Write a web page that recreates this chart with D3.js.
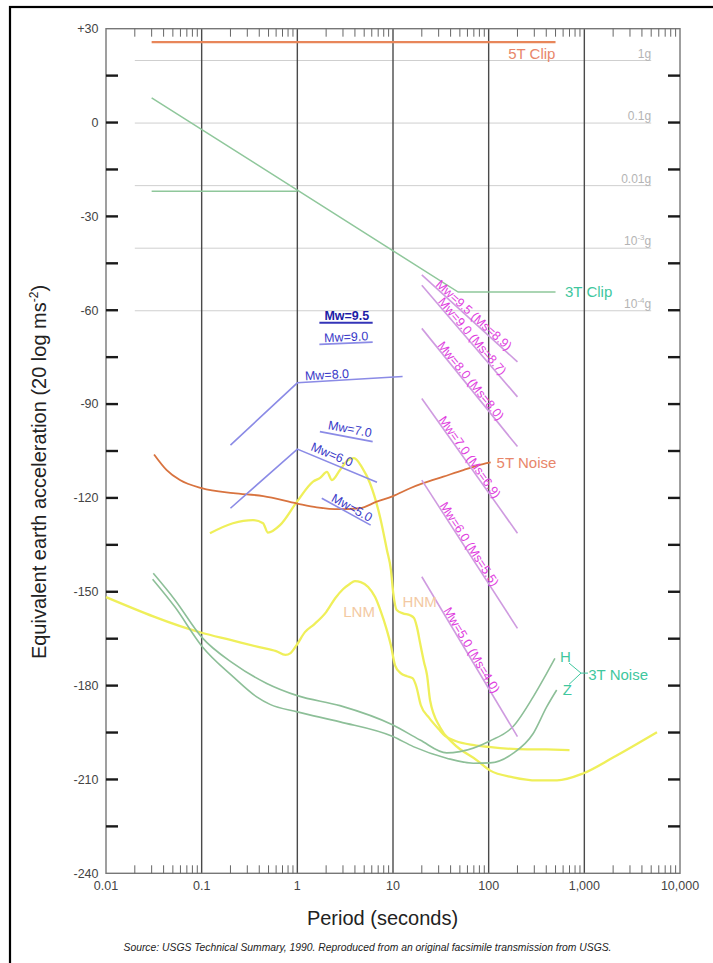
<!DOCTYPE html>
<html>
<head>
<meta charset="utf-8">
<script src="https://cdn.jsdelivr.net/npm/d3@7"></script>
<style>
  html, body { margin: 0; padding: 0; background: #fff; }
  svg { display: block; font-family: "Liberation Sans", Arial, Helvetica, sans-serif; }
</style>
</head>
<body>
<svg id="chart" width="713" height="963"></svg>
<script>
// ---- axis ticks and labels ----
const periodTicks = [0.01, 0.1, 1, 10, 100, 1000, 10000];
const periodTickLabels = ["0.01", "0.1", "1", "10", "100", "1,000", "10,000"];
const dbTicks = [30, 0, -30, -60, -90, -120, -150, -180, -210, -240];
const dbTickLabels = ["+30", "0", "-30", "-60", "-90", "-120", "-150", "-180", "-210", "-240"];

// ---- reference acceleration levels (20 log of g fractions) ----
const gLevels = [19.83, -0.17, -20.17, -40.17, -60.17];
const gLabelBase = ["1g", "0.1g", "0.01g", "10", "10"];
const gLabelExp = [null, null, null, "-3", "-4"];

// ---- instrument clip levels [period s, dB] ----
const clip5T = [[0.03, 25.7], [500, 25.7]];
const clip3T = [[0.03, 7.9], [48, -54.2], [500, -54.2]];
const clip3TLow = [[0.03, -22], [1, -22]];

// ---- instrument self-noise ----
const noise5T = [[0.0318, -106.1], [0.0431, -111.1], [0.0593, -114.3], [0.1, -116.9], [0.214, -118.5],
  [0.44, -119.4], [1.0, -121.8], [1.6, -123.0], [2.79, -123.6], [4.5, -123.3], [6.76, -121.2],
  [10, -119.4], [15.1, -116.9], [20.7, -115.3], [33.6, -113.2], [54.3, -111.1], [95, -108.9], [105, -108.6]];
const noise3TH = [[0.0312, -144.1], [0.0526, -152.6], [0.1, -164.5], [0.214, -172.9], [0.479, -179.3],
  [1, -183.2], [2.79, -186.4], [10, -192.6], [19.2, -197.4], [36.4, -201.5], [50, -201.1],
  [103, -197.7], [181, -193.0], [292, -183.6], [404, -176.1], [493, -171.3]];
const noise3TZ = [[0.0307, -146.0], [0.0526, -154.9], [0.1, -167.3], [0.214, -177.2], [0.376, -183.6],
  [0.518, -186.0], [1, -188.4], [2.79, -191.6], [10, -196.3], [16.3, -199.5], [36.4, -203.2],
  [69, -204.8], [103, -204.7], [181, -201.6], [292, -195.3], [404, -186.8], [514, -181.4]];

// ---- earth noise models ----
const lnm = [[0.01, -151.7], [0.1, -163.1], [0.2, -165.4], [0.4, -167.7], [0.6, -169.0], [0.75, -170.2],
  [0.85, -169.6], [1.0, -166.7], [1.2, -162.9], [1.5, -160.4], [2.0, -156.5], [2.5, -152.0], [3.0, -149.2],
  [3.5, -147.6], [4.0, -146.6], [4.6, -146.9], [5.5, -148.5], [6.5, -151.7], [7.5, -156.5], [8.5, -161.6],
  [9.5, -167.1], [10.5, -173.5], [12, -176.0], [14, -177.0], [16, -177.6], [17.5, -180.2], [19.5, -186.2],
  [24, -190.4], [30, -193.9], [35, -196.1], [45, -197.7], [70, -199.0], [100, -199.6], [200, -200.3],
  [400, -200.4], [700, -200.6]];
const hnm = [[0.122, -131.3], [0.212, -128.1], [0.344, -127.1], [0.438, -128.1], [0.493, -131.1],
  [0.659, -128.7], [0.992, -121.2], [1.46, -114.8], [1.73, -113.6], [2.04, -111.7], [2.30, -114.3],
  [2.79, -111.1], [3.39, -107.9], [3.91, -107.3], [4.74, -110.2], [5.75, -115.3], [7.31, -126.0],
  [8.65, -136.7], [9.52, -143.1], [10.07, -150.5], [10.93, -155.8], [12.7, -156.9], [15.1, -157.5],
  [16.6, -158.4], [17.8, -161.3], [19.2, -166.4], [21.1, -172.5], [22.7, -176.7], [24.4, -184.7],
  [31.0, -193.3], [42.4, -198.4], [75.5, -203.9], [103, -207.1], [180, -209.3], [320, -210.3],
  [518, -210.3], [968, -208.1], [1995, -203.0], [5750, -194.9]];

// ---- moment magnitude body-wave levels ----
const mwLabels = ["Mw=9.5", "Mw=9.0", "Mw=8.0", "Mw=7.0", "Mw=6.0", "Mw=5.0"];
const mwLines = [
  [[1.70, -64.0], [6.13, -64.0]],
  [[1.70, -70.9], [6.13, -70.2]],
  [[0.2, -103.1], [1, -83.2], [12.6, -81.2]],
  [[1.72, -98.8], [6.13, -102.0]],
  [[0.2, -123.3], [1, -104.4], [6.8, -115.0]],
  [[1.80, -120.1], [5.84, -128.7]]
];

// ---- surface-wave levels ----
const msLabels = ["Mw=9.5 (Ms=8.9)", "Mw=9.0 (Ms=8.7)", "Mw=8.0 (Ms=8.0)",
  "Mw=7.0 (Ms=6.9)", "Mw=6.0 (Ms=5.5)", "Mw=5.0 (Ms=4.0)"];
const msPeriods = [20, 200];
const msStart = [-48.7, -52.0, -65.8, -88.2, -114.3, -145.2];
const msEnd = [-76.5, -87.7, -103.6, -131.3, -161.7, -196.3];

// ---- curve label anchors [period, dB] ----
const curveLabels = [
  { text: "5T Clip", at: [160, 22.0], color: "#e8866a" },
  { text: "3T Clip", at: [628, -54.2], color: "#3fc79e" },
  { text: "5T Noise", at: [121, -108.7], color: "#e8866a" },
  { text: "3T Noise", at: [1099, -176.4], color: "#3fc79e" },
  { text: "H", at: [556, -170.8], color: "#3fc79e" },
  { text: "Z", at: [594, -181.4], color: "#3fc79e" },
  { text: "LNM", at: [3.02, -156.4], color: "#f3c9a2" },
  { text: "HNM", at: [12.6, -153.2], color: "#f3c9a2" }
];
const braceH = [[692, -172.8], [923, -176.0], [692, -179.6]];
const braceStem = [[923, -176.0], [1092, -176.0]];

// ================= drawing =================
const svg = d3.select("#chart");
const x = d3.scaleLog().domain([0.01, 10000]).range([106, 680]);
const y = d3.scaleLinear().domain([-240, 30]).range([873.3, 28.7]);
const line = d3.line().x(d => x(d[0])).y(d => y(d[1]));
const smooth = d3.line().x(d => x(d[0])).y(d => y(d[1])).curve(d3.curveMonotoneX);

// outer frame
svg.append("rect").attr("x", 10).attr("y", 7).attr("width", 760).attr("height", 1000)
  .attr("fill", "none").attr("stroke", "#000").attr("stroke-width", 2.2);

// g reference lines
const gG = svg.append("g");
gLevels.forEach((v, i) => {
  gG.append("line").attr("x1", x(0.02)).attr("x2", x(5000)).attr("y1", y(v)).attr("y2", y(v))
    .attr("stroke", "#cfcfcf").attr("stroke-width", 1);
  const t = gG.append("text").attr("x", x(5000)).attr("y", y(v) - 3).attr("text-anchor", "end")
    .attr("font-size", 12).attr("fill", "#b4b4b4");
  t.append("tspan").text(gLabelBase[i]);
  if (gLabelExp[i]) {
    t.append("tspan").attr("font-size", 8).attr("dy", -5).text(gLabelExp[i]);
    t.append("tspan").attr("dy", 5).text("g");
  }
});

// decade grid lines
svg.append("g").selectAll("line").data(periodTicks.slice(1, -1)).join("line")
  .attr("x1", d => x(d)).attr("x2", d => x(d)).attr("y1", y(30)).attr("y2", y(-240))
  .attr("stroke", "#4a4a4a").attr("stroke-width", 1.4);

// plot box
svg.append("rect").attr("x", x(0.01)).attr("y", y(30)).attr("width", x(10000) - x(0.01))
  .attr("height", y(-240) - y(30)).attr("fill", "none").attr("stroke", "#777").attr("stroke-width", 1.4);

// minor period ticks (top and bottom)
const minor = [];
periodTicks.slice(0, -1).forEach(d => { for (let k = 2; k <= 9; k++) minor.push(d * k); });
const tk = svg.append("g").attr("stroke", "#666").attr("stroke-width", 1);
minor.forEach(p => {
  tk.append("line").attr("x1", x(p)).attr("x2", x(p)).attr("y1", y(30)).attr("y2", y(30) + 8);
  tk.append("line").attr("x1", x(p)).attr("x2", x(p)).attr("y1", y(-240)).attr("y2", y(-240) - 8);
});

// dB ticks on both sides
const majorDb = d3.range(-225, 30, 15);
const yt = svg.append("g").attr("stroke", "#1a1a1a").attr("stroke-width", 2.4);
majorDb.forEach(v => {
  yt.append("line").attr("x1", x(0.01)).attr("x2", x(0.01) + 12).attr("y1", y(v)).attr("y2", y(v));
  yt.append("line").attr("x1", x(10000) - 12).attr("x2", x(10000)).attr("y1", y(v)).attr("y2", y(v));
});

// tick labels
svg.append("g").selectAll("text").data(dbTicks).join("text")
  .attr("x", 98.5).attr("y", d => y(d)).attr("dy", "0.35em").attr("text-anchor", "end")
  .attr("font-size", 12.5).attr("fill", "#444").text((d, i) => dbTickLabels[i]);
svg.append("g").selectAll("text").data(periodTicks).join("text")
  .attr("x", d => x(d)).attr("y", 890).attr("text-anchor", "middle")
  .attr("font-size", 12.5).attr("fill", "#444").text((d, i) => periodTickLabels[i]);

// axis titles
svg.append("text").attr("x", 382.5).attr("y", 925).attr("text-anchor", "middle")
  .attr("font-size", 20).attr("fill", "#222").text("Period (seconds)");
const yTitle = svg.append("text").attr("transform", "translate(46,472) rotate(-90)")
  .attr("text-anchor", "middle").attr("font-size", 20).attr("fill", "#222");
yTitle.append("tspan").text("Equivalent earth acceleration (20 log ms");
yTitle.append("tspan").attr("font-size", 12).attr("dy", -8).text("-2");
yTitle.append("tspan").attr("dy", 8).text(")");

// source note
svg.append("text").attr("x", 367.5).attr("y", 951).attr("text-anchor", "middle")
  .attr("font-size", 10).attr("font-style", "italic").attr("fill", "#222")
  .attr("textLength", 488).attr("lengthAdjust", "spacingAndGlyphs")
  .text("Source: USGS Technical Summary, 1990.  Reproduced from an original facsimile transmission from USGS.");

// noise models (yellow)
[lnm, hnm].forEach(c => svg.append("path").attr("d", smooth(c)).attr("fill", "none")
  .attr("stroke", "#efef5a").attr("stroke-width", 2.3));

// 3T clip and noise (green)
[clip3T, clip3TLow].forEach(c => svg.append("path").attr("d", line(c)).attr("fill", "none")
  .attr("stroke", "#8fc79b").attr("stroke-width", 1.5));
[noise3TH, noise3TZ].forEach(c => svg.append("path").attr("d", smooth(c)).attr("fill", "none")
  .attr("stroke", "#8dbf98").attr("stroke-width", 1.6));

// 5T clip and noise (orange)
svg.append("path").attr("d", line(clip5T)).attr("fill", "none").attr("stroke", "#e8865a").attr("stroke-width", 2.2);
svg.append("path").attr("d", smooth(noise5T)).attr("fill", "none").attr("stroke", "#d8733f").attr("stroke-width", 1.8);

// helper: place text along a segment in pixel space
function alongSeg(a, b, dist, off) {
  const ax = x(a[0]), ay = y(a[1]), bx = x(b[0]), by = y(b[1]);
  const ang = Math.atan2(by - ay, bx - ax);
  const px = ax + Math.cos(ang) * dist + Math.sin(ang) * off;
  const py = ay + Math.sin(ang) * dist - Math.cos(ang) * off;
  return `translate(${px},${py}) rotate(${ang * 180 / Math.PI})`;
}

// surface-wave lines (magenta)
const msDist = [17, 23, 23, 27, 31, 40];
msLabels.forEach((lab, i) => {
  const a = [msPeriods[0], msStart[i]], b = [msPeriods[1], msEnd[i]];
  svg.append("path").attr("d", line([a, b])).attr("fill", "none")
    .attr("stroke", "#cf9be0").attr("stroke-width", 1.6);
  svg.append("text").attr("transform", alongSeg(a, b, msDist[i], 1))
    .attr("font-size", 12.5).attr("fill", "#e03ee0").text(lab);
});

// body-wave lines (blue)
const mwDist = [5, 5, 8, 7, 12, 9];
const mwOff = [2.5, 2, 2, 4, 4, 2];
mwLabels.forEach((lab, i) => {
  const pts = mwLines[i];
  const strong = i === 0;
  svg.append("path").attr("d", line(pts)).attr("fill", "none")
    .attr("stroke", strong ? "#3434b8" : "#8b8be6").attr("stroke-width", strong ? 2 : 1.6);
  const a = pts[pts.length - 2], b = pts[pts.length - 1];
  svg.append("text").attr("transform", alongSeg(a, b, mwDist[i], mwOff[i]))
    .attr("font-size", 12.5).attr("font-weight", strong ? "bold" : "normal")
    .attr("fill", strong ? "#1c1ca6" : "#3a3ac8").text(lab);
});

// brace joining H and Z
svg.append("path").attr("d", line(braceH)).attr("fill", "none").attr("stroke", "#3fc79e").attr("stroke-width", 1);
svg.append("path").attr("d", line(braceStem)).attr("fill", "none").attr("stroke", "#3fc79e").attr("stroke-width", 1);

// curve labels
curveLabels.forEach(l => svg.append("text").attr("x", x(l.at[0])).attr("y", y(l.at[1]))
  .attr("dy", "0.35em").attr("font-size", 15).attr("fill", l.color).text(l.text));
</script>
</body>
</html>
